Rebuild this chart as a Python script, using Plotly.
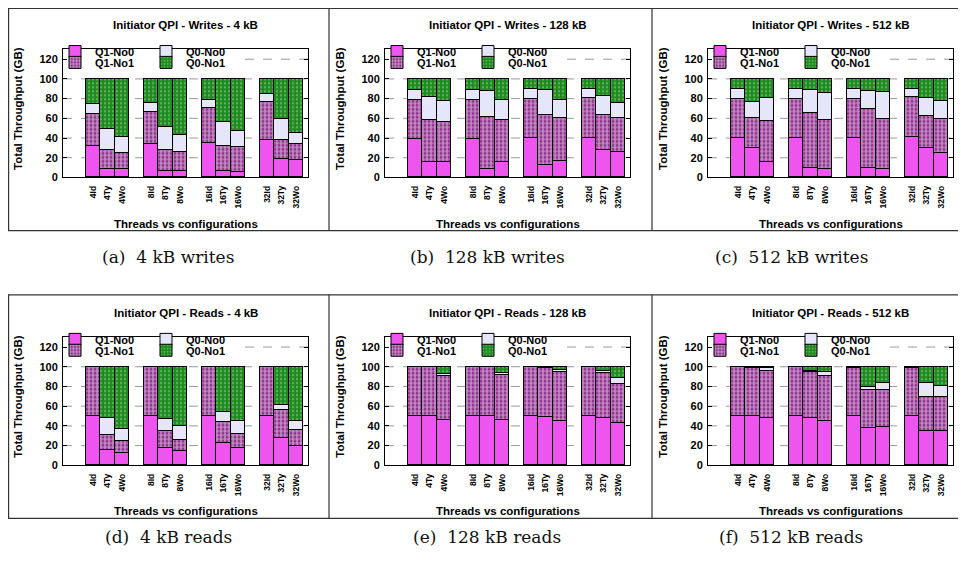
import plotly.graph_objects as go

# The page body has an 8px margin, so the figure is drawn 8px smaller and
# every position below is given in window pixels, shifted by that margin.
WIN_W, WIN_H = 966, 563
OFF = 8
W, H = WIN_W - OFF, WIN_H - OFF

categories = ["4Id", "4Ty", "4Wo", "8Id", "8Ty", "8Wo",
              "16Id", "16Ty", "16Wo", "32Id", "32Ty", "32Wo"]
group_index = [0, 0, 0, 1, 1, 1, 2, 2, 2, 3, 3, 3]
member_index = [0, 1, 2, 0, 1, 2, 0, 1, 2, 0, 1, 2]
series_names = ["Q1-No0", "Q1-No1", "Q0-No0", "Q0-No1"]
y_ticks = [0, 20, 40, 60, 80, 100, 120]

panel_titles = ["Initiator QPI - Writes - 4 kB", "Initiator QPI - Writes - 128 kB",
                "Initiator QPI - Writes - 512 kB", "Initiator QPI - Reads - 4 kB",
                "Initiator QPI - Reads - 128 kB", "Initiator QPI - Reads - 512 kB"]
captions = ["(a)\u00a0\u00a04 kB writes", "(b)\u00a0\u00a0128 kB writes",
            "(c)\u00a0\u00a0512 kB writes", "(d)\u00a0\u00a04 kB reads",
            "(e)\u00a0\u00a0128 kB reads", "(f)\u00a0\u00a0512 kB reads"]

# (a) Writes 4 kB
w4_q1no0 = [32.0, 8.2, 8.2, 33.2, 5.7, 6.6, 34.8, 6.6, 5.4, 38.0, 18.7, 17.7]
w4_q1no1 = [32.2, 18.8, 16.5, 33.3, 21.5, 18.7, 35.5, 25.4, 25.0, 38.3, 19.0, 15.5]
w4_q0no0 = [9.8, 21.7, 16.3, 8.8, 23.4, 17.1, 8.2, 24.0, 16.8, 8.2, 21.2, 11.8]
w4_q0no1 = [26.0, 51.3, 59.0, 24.7, 49.4, 57.6, 21.5, 44.0, 52.8, 15.5, 41.1, 55.0]
# (b) Writes 128 kB
w128_q1no0 = [38.9, 15.2, 15.2, 38.9, 8.2, 15.8, 39.9, 12.7, 16.1, 39.9, 27.5, 25.3]
w128_q1no1 = [39.6, 42.7, 40.5, 39.6, 52.6, 41.8, 39.8, 50.0, 43.4, 40.5, 35.8, 34.5]
w128_q0no0 = [10.1, 23.4, 21.5, 10.1, 26.5, 20.2, 9.9, 25.3, 19.0, 9.5, 19.3, 15.5]
w128_q0no1 = [11.4, 18.7, 22.8, 11.4, 12.7, 22.2, 10.4, 12.0, 21.5, 10.1, 17.4, 24.7]
# (c) Writes 512 kB
w512_q1no0 = [39.6, 29.1, 15.2, 39.6, 8.9, 8.2, 39.6, 9.2, 8.2, 40.5, 29.1, 24.7]
w512_q1no1 = [39.5, 30.7, 42.1, 39.8, 56.6, 49.7, 40.1, 59.8, 50.7, 40.8, 32.9, 34.2]
w512_q0no0 = [10.1, 16.8, 23.1, 10.2, 22.5, 27.5, 10.2, 18.7, 27.5, 7.9, 18.1, 18.3]
w512_q0no1 = [10.8, 23.4, 19.6, 10.4, 12.0, 14.6, 10.1, 12.3, 13.6, 10.8, 19.9, 22.8]
# (d) Reads 4 kB
r4_q1no0 = [50.0, 15.8, 12.7, 50.0, 17.1, 13.9, 49.4, 22.2, 17.1, 49.4, 27.8, 19.0]
r4_q1no1 = [50.0, 15.2, 11.7, 50.0, 17.1, 12.0, 50.6, 21.8, 14.9, 50.6, 28.5, 17.1]
r4_q0no0 = [0.0, 17.1, 12.3, 0.0, 12.3, 14.0, 0.0, 9.8, 12.3, 0.0, 4.5, 8.8]
r4_q0no1 = [0.0, 51.9, 63.3, 0.0, 53.5, 60.1, 0.0, 46.2, 55.7, 0.0, 39.2, 55.1]
# (e) Reads 128 kB
r128_q1no0 = [50.0, 50.0, 45.6, 50.0, 50.0, 46.2, 50.0, 48.7, 44.9, 50.0, 48.1, 43.0]
r128_q1no1 = [50.0, 50.0, 45.2, 50.0, 50.0, 45.3, 50.0, 50.3, 49.4, 50.0, 45.3, 39.0]
r128_q0no0 = [0.0, 0.0, 1.6, 0.0, 0.0, 2.2, 0.0, 0.0, 1.9, 0.0, 2.2, 6.6]
r128_q0no1 = [0.0, 0.0, 7.6, 0.0, 0.0, 6.3, 0.0, 1.0, 3.8, 0.0, 4.4, 11.4]
# (f) Reads 512 kB
r512_q1no0 = [50.0, 50.0, 47.8, 50.0, 47.5, 44.9, 50.0, 37.7, 38.6, 49.4, 34.5, 34.5]
r512_q1no1 = [50.0, 49.0, 47.8, 50.0, 47.1, 45.3, 49.0, 38.2, 38.0, 49.3, 35.1, 35.1]
r512_q0no0 = [0.0, 0.0, 2.5, 0.0, 1.0, 4.1, 0.0, 3.2, 6.9, 0.0, 13.9, 10.8]
r512_q0no1 = [0.0, 1.0, 1.9, 0.0, 4.4, 5.7, 1.0, 20.9, 16.5, 1.3, 16.5, 19.6]

panels = [
    [w4_q1no0, w4_q1no1, w4_q0no0, w4_q0no1],
    [w128_q1no0, w128_q1no1, w128_q0no0, w128_q0no1],
    [w512_q1no0, w512_q1no1, w512_q0no0, w512_q0no1],
    [r4_q1no0, r4_q1no1, r4_q0no0, r4_q0no1],
    [r128_q1no0, r128_q1no1, r128_q0no0, r128_q0no1],
    [r512_q1no0, r512_q1no1, r512_q0no0, r512_q0no1],
]

# ---------------- styling ----------------
SANS = "Liberation Sans"
SERIF = "DejaVu Serif"
PINK = "#ee55ee"
LAV = "#e6e6fa"
PURPLE = "#7e117e"
GREEN = "#1f8a1f"
markers = [
    dict(color=PINK, line=dict(color="black", width=1)),
    dict(color=PURPLE, line=dict(color="black", width=1),
         pattern=dict(shape=".", fgcolor="white", bgcolor=PURPLE, size=4, solidity=0.7)),
    dict(color=LAV, line=dict(color="black", width=1)),
    dict(color=GREEN, line=dict(color="black", width=1),
         pattern=dict(shape=".", fgcolor="#a6dca6", bgcolor=GREEN, size=4, solidity=0.25)),
]

x_pos = [4 * g + m for g, m in zip(group_index, member_index)]

panel_left = [7, 329, 652]
panel_top = [7, 298]
caption_cx = [168, 487, 791]
caption_cy = [260, 543]
PL, PR = 56, 301           # plot area x offsets inside a panel
PT_, PB_ = 42.8, 172.3     # plot area y offsets inside a panel (y=130 .. y=0)


def px(x):
    return (x - OFF) / W


def py(y):
    return 1 - (y - OFF) / H


fig = go.Figure()
layout = dict(width=W, height=H, margin=dict(l=0, r=0, t=0, b=0),
              paper_bgcolor="white", plot_bgcolor="white", barmode="stack",
              bargap=0, font=dict(family=SANS, size=11, color="black"),
              showlegend=True)
annotations = []
shapes = []

for p in range(6):
    r, c = divmod(p, 3)
    L, T = panel_left[c], panel_top[r]
    ax = "" if p == 0 else str(p + 1)
    xa, ya = "x" + ax, "y" + ax
    leg_a = "legend" if p == 0 else "legend%d" % (2 * p + 1)
    leg_b = "legend%d" % (2 * p + 2)
    legs = [leg_a, leg_b, leg_a, leg_b]
    for s in range(4):
        fig.add_trace(go.Bar(
            x=x_pos, y=panels[p][s], name=series_names[s], width=1.0,
            marker=markers[s], xaxis=xa, yaxis=ya, legend=legs[s],
            showlegend=True, hoverinfo="skip"))
    x0, x1 = px(L + PL), px(L + PR)
    y0, y1 = py(T + PB_), py(T + PT_)
    layout["xaxis" + ax] = dict(
        domain=[x0, x1], range=[-2.07, 14.83], anchor=ya,
        tickvals=x_pos, ticktext=categories, tickangle=-90,
        tickfont=dict(family=SANS, size=8.5, weight="bold"),
        ticks="", ticklabelstandoff=4, showgrid=False, zeroline=False,
        showline=True, linecolor="black", linewidth=1, mirror=True, fixedrange=True)
    layout["yaxis" + ax] = dict(
        domain=[y0, y1], range=[0, 130], anchor=xa,
        tickvals=y_ticks, tickfont=dict(family=SANS, size=11, weight="bold"),
        ticks="inside", ticklen=4, tickcolor="black", ticklabelstandoff=2,
        showgrid=False, zeroline=False,
        showline=True, linecolor="black", linewidth=1, mirror="ticks", fixedrange=True)
    # dashed grid lines
    for v in y_ticks[1:]:
        shapes.append(dict(type="line", xref=xa + " domain", yref=ya,
                           x0=0.743 if v == 120 else 0, x1=1, y0=v, y1=v,
                           line=dict(color="#999999", width=1, dash="dash"),
                           layer="below"))
    # legends (one per row)
    for lg, dy in [(leg_a, 45), (leg_b, 56)]:
        layout[lg] = dict(
            orientation="h", x=px(L + 48), y=py(T + dy), xanchor="left", yanchor="middle",
            bgcolor="rgba(0,0,0,0)", borderwidth=0, entrywidth=46, entrywidthmode="pixels",
            font=dict(family=SANS, size=11, weight="bold"), tracegroupgap=0, itemwidth=30,
            traceorder="normal")
    cx = px(L + (PL + PR) / 2)
    annotations.append(dict(text=panel_titles[p], x=cx, y=py(T + 18), xref="paper", yref="paper",
                            showarrow=False, font=dict(family=SANS, size=11.5, weight="bold"),
                            xanchor="center", yanchor="middle"))
    annotations.append(dict(text="Threads vs configurations", x=cx, y=py(T + 219),
                            xref="paper", yref="paper", showarrow=False,
                            font=dict(family=SANS, size=11.5, weight="bold"),
                            xanchor="center", yanchor="middle"))
    annotations.append(dict(text="Total Throughput (GB)", x=px(L + 11), y=py(T + 103),
                            xref="paper", yref="paper", showarrow=False, textangle=-90,
                            font=dict(family=SANS, size=11.5, weight="bold"),
                            xanchor="center", yanchor="middle"))
    annotations.append(dict(text=captions[p], x=px(caption_cx[c]), y=py(caption_cy[r]),
                            xref="paper", yref="paper", showarrow=False,
                            font=dict(family=SERIF, size=17, color="#111111"),
                            xanchor="center", yanchor="middle"))

# panel frames
for T in panel_top:
    B = T + 226
    for yy in (T, B):
        shapes.append(dict(type="line", xref="paper", yref="paper", x0=px(8), x1=px(964),
                           y0=py(max(yy, 8.5)), y1=py(max(yy, 8.5)),
                           line=dict(color="#333333", width=1.2)))
    for xx in panel_left:
        shapes.append(dict(type="line", xref="paper", yref="paper",
                           x0=px(max(xx, 8.6)), x1=px(max(xx, 8.6)),
                           y0=py(max(T, 8.5)), y1=py(B), line=dict(color="#333333", width=1.2)))

layout["annotations"] = annotations
layout["shapes"] = shapes
fig.update_layout(**layout)
fig.write_html("out.html")
